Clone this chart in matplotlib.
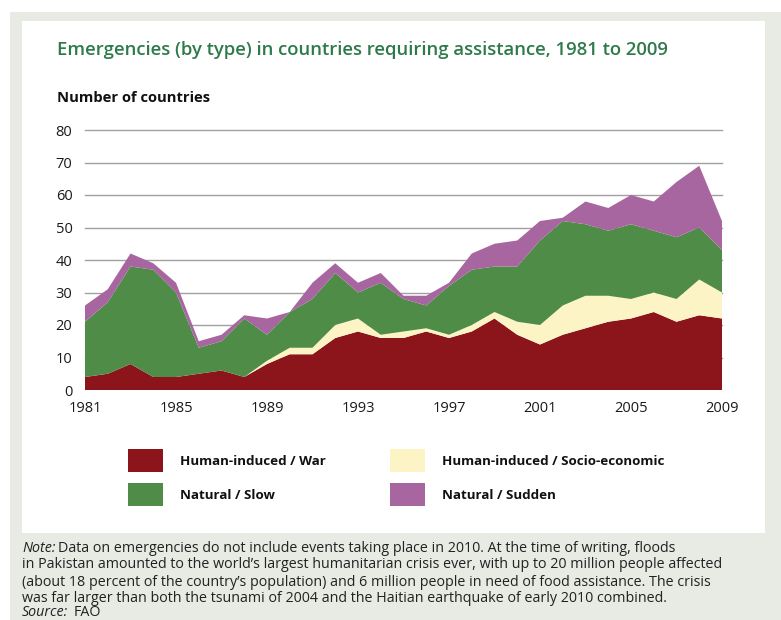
import matplotlib
matplotlib.use("Agg")
import matplotlib.pyplot as plt
from matplotlib.patches import Rectangle

years = list(range(1981, 2010))
war = [4, 5, 8, 4, 4, 5, 6, 4, 8, 11, 11, 16, 18, 16, 16, 18, 16, 18, 22, 17, 14, 17, 19, 21, 22, 24, 21, 23, 22]
socio = [0, 0, 0, 0, 0, 0, 0, 0, 1, 2, 2, 4, 4, 1, 2, 1, 1, 2, 2, 4, 6, 9, 10, 8, 6, 6, 7, 11, 8]
slow = [17, 22, 30, 33, 26, 8, 9, 18, 8, 11, 15, 16, 8, 16, 10, 7, 15, 17, 14, 17, 26, 26, 22, 20, 23, 19, 19, 16, 13]
sudden = [5, 4, 4, 2, 3, 2, 2, 1, 5, 0, 5, 3, 3, 3, 1, 3, 1, 5, 7, 8, 6, 1, 7, 7, 9, 9, 17, 19, 9]

series_labels = ["Human-induced / War", "Human-induced / Socio-economic",
                 "Natural / Slow", "Natural / Sudden"]
colors = ["#8c151c", "#fdf4c6", "#4e8c47", "#a866a0"]
xticks = [1981, 1985, 1989, 1993, 1997, 2001, 2005, 2009]
yticks = [0, 10, 20, 30, 40, 50, 60, 70, 80]

title = "Emergencies (by type) in countries requiring assistance, 1981 to 2009"
ylabel = "Number of countries"
note_lines = [
    "Data on emergencies do not include events taking place in 2010. At the time of writing, floods",
    "in Pakistan amounted to the world\u2019s largest humanitarian crisis ever, with up to 20 million people affected",
    "(about 18 percent of the country\u2019s population) and 6 million people in need of food assistance. The crisis",
    "was far larger than both the tsunami of 2004 and the Haitian earthquake of early 2010 combined.",
]

W, H = 781, 620
font = "Open Sans"


def fx(px):
    return px / W


def fy(py):
    return 1 - py / H


fig = plt.figure(figsize=(W / 100, H / 100), dpi=100)
fig.patch.set_facecolor("white")

# grey frame and white panel behind everything
fig.patches.append(Rectangle((fx(10), 0), 1 - fx(10), fy(12), transform=fig.transFigure,
                             facecolor="#e8eae4", edgecolor="none", zorder=-10))
fig.patches.append(Rectangle((fx(22), fy(533)), fx(765) - fx(22), fy(21) - fy(533),
                             transform=fig.transFigure, facecolor="white",
                             edgecolor="none", zorder=-9))

ax = fig.add_axes([fx(85), fy(390), fx(722) - fx(85), fy(130) - fy(390)])
ax.set_zorder(5)
ax.set_facecolor("none")
ax.stackplot(years, war, socio, slow, sudden, colors=colors, linewidth=0, zorder=2)
ax.set_xlim(1981, 2009)
ax.set_ylim(0, 80)
for y in yticks[1:]:
    ax.axhline(y, color="#a0a0a0", linewidth=1.0, zorder=1, clip_on=False)
for s in ax.spines.values():
    s.set_visible(False)
ax.set_xticks(xticks)
ax.set_yticks(yticks)
ax.tick_params(length=0, labelsize=10.5, colors="#1a1a1a")
for lab in ax.get_xticklabels() + ax.get_yticklabels():
    lab.set_fontfamily(font)
ax.tick_params(axis="y", pad=9)
ax.tick_params(axis="x", pad=8)

fig.text(fx(57), fy(50), title, fontsize=13.3, color="#2f7a4a", family=font,
         fontweight="semibold", va="center", ha="left")
fig.text(fx(57), fy(98), ylabel, fontsize=10.6, color="#111111", family=font,
         fontweight="bold", va="center", ha="left")

# legend
legend_pos = [(128, 449), (390, 449), (128, 483), (390, 483)]
for (px, py), lab, col in zip(legend_pos, series_labels, colors):
    fig.patches.append(Rectangle((fx(px), fy(py + 23)), fx(35), 23 / H,
                                 transform=fig.transFigure, facecolor=col,
                                 edgecolor="none", zorder=3))
    fig.text(fx(px + 52), fy(py + 12.5), lab, fontsize=9.6, family=font,
             fontweight="bold", color="#111111", va="center", ha="left")

# note and source
note_y = [548, 565, 582, 598]
fs = 10.3
for i, (line, py) in enumerate(zip(note_lines, note_y)):
    if i == 0:
        fig.text(fx(22), fy(py), "Note:", fontsize=fs, family=font, style="italic",
                 color="#222222", va="center", ha="left")
        fig.text(fx(58), fy(py), line, fontsize=fs, family=font,
                 color="#222222", va="center", ha="left")
    else:
        fig.text(fx(22), fy(py), line, fontsize=fs, family=font,
                 color="#222222", va="center", ha="left")
fig.text(fx(22), fy(613), "Source:", fontsize=fs, family=font, style="italic",
         color="#222222", va="center", ha="left")
fig.text(fx(74), fy(613), "FAO", fontsize=fs, family=font,
         color="#222222", va="center", ha="left")

fig.savefig("out.png", dpi=100)
